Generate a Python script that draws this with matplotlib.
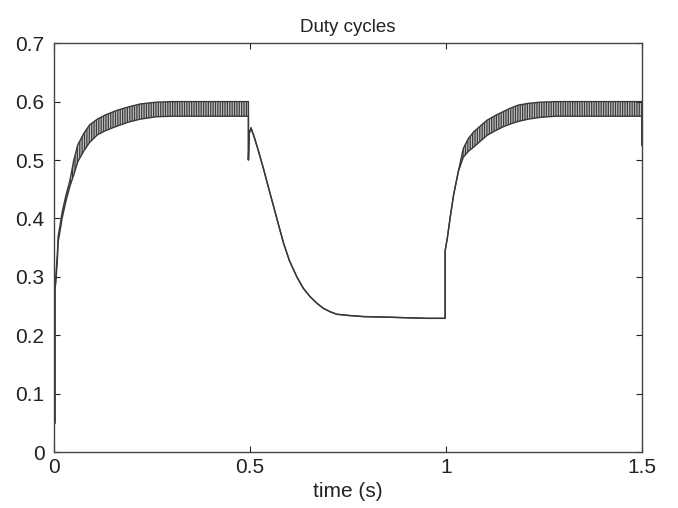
import numpy as np
import matplotlib
matplotlib.use("Agg")
import matplotlib.pyplot as plt

# time (s), lower and upper edge of the switching ripple
time = [0.002, 0.002, 0.004, 0.008, 0.010, 0.014, 0.020, 0.030, 0.040, 0.050,
        0.060, 0.075, 0.090, 0.110, 0.130, 0.160, 0.190, 0.220, 0.260, 0.300,
        0.400, 0.4955,
        0.4955, 0.4975, 0.502, 0.510, 0.520, 0.534, 0.547, 0.560, 0.572, 0.585,
        0.600, 0.619, 0.636, 0.653, 0.670, 0.687, 0.705, 0.721, 0.750, 0.789,
        0.850, 0.900, 0.950, 0.9975,
        0.9975, 1.003, 1.010, 1.019, 1.031, 1.044, 1.057, 1.070, 1.087, 1.104,
        1.125, 1.146, 1.165, 1.184, 1.210, 1.240, 1.280, 1.350, 1.4995, 1.4995]

duty_lo = [0.05, 0.28, 0.29, 0.33, 0.36, 0.375, 0.40, 0.43, 0.455, 0.475,
           0.497, 0.515, 0.530, 0.543, 0.550, 0.558, 0.565, 0.570, 0.574, 0.575,
           0.575, 0.575,
           0.500, 0.545, 0.555, 0.540, 0.518, 0.485, 0.452, 0.420, 0.390, 0.358,
           0.328, 0.300, 0.280, 0.266, 0.255, 0.246, 0.240, 0.236, 0.234, 0.232,
           0.231, 0.230, 0.229, 0.229,
           0.345, 0.366, 0.400, 0.440, 0.480, 0.505, 0.515, 0.522, 0.532, 0.542,
           0.550, 0.557, 0.562, 0.566, 0.570, 0.573, 0.575, 0.575, 0.575, 0.525]

duty_hi = [0.05, 0.28, 0.30, 0.34, 0.37, 0.385, 0.41, 0.44, 0.465, 0.500,
           0.526, 0.545, 0.560, 0.570, 0.577, 0.585, 0.591, 0.596, 0.599, 0.600,
           0.600, 0.600,
           0.500, 0.545, 0.555, 0.540, 0.518, 0.485, 0.452, 0.420, 0.390, 0.358,
           0.328, 0.300, 0.280, 0.266, 0.255, 0.246, 0.240, 0.236, 0.234, 0.232,
           0.231, 0.230, 0.229, 0.229,
           0.345, 0.366, 0.400, 0.440, 0.480, 0.520, 0.537, 0.548, 0.558, 0.568,
           0.576, 0.583, 0.589, 0.594, 0.597, 0.599, 0.600, 0.600, 0.600, 0.525]

xticks = [0, 0.5, 1, 1.5]
xtick_labels = ["0", "0.5", "1", "1.5"]
yticks = [0, 0.1, 0.2, 0.3, 0.4, 0.5, 0.6, 0.7]
ytick_labels = ["0", "0.1", "0.2", "0.3", "0.4", "0.5", "0.6", "0.7"]

plt.rcParams["font.family"] = ["Liberation Sans", "DejaVu Sans"]
plt.rcParams["hatch.linewidth"] = 0.9

fig = plt.figure(figsize=(6.78, 5.08), dpi=100)
ax = fig.add_axes([0.080, 0.110, 0.867, 0.805])

t = np.array(time)
lo = np.array(duty_lo)
hi = np.array(duty_hi)

# ripple band drawn as vertical hatching between the two edges
ax.fill_between(t, lo, hi, facecolor="#c4c4c4", edgecolor="#3c3c3c",
                hatch="|" * 7, linewidth=0)
ax.plot(t, lo, color="#383838", lw=1.0)
ax.plot(t, hi, color="#383838", lw=1.0)

ax.set_xlim(0, 1.5)
ax.set_ylim(0, 0.7)
ax.set_xticks(xticks)
ax.set_xticklabels(xtick_labels)
ax.set_yticks(yticks)
ax.set_yticklabels(ytick_labels)
ax.tick_params(direction="in", length=4, width=0.8, top=True, right=True,
               labelsize=15, colors="#222222")
ax.tick_params(axis="y", pad=7)
ax.tick_params(axis="x", pad=4)
for s in ax.spines.values():
    s.set_color("#444444")
    s.set_linewidth(1.0)

ax.set_title("Duty cycles", fontsize=13.5, color="#222222", pad=8)
ax.set_xlabel("time (s)", fontsize=15, color="#222222", labelpad=4)

fig.savefig("out.png", dpi=100)
